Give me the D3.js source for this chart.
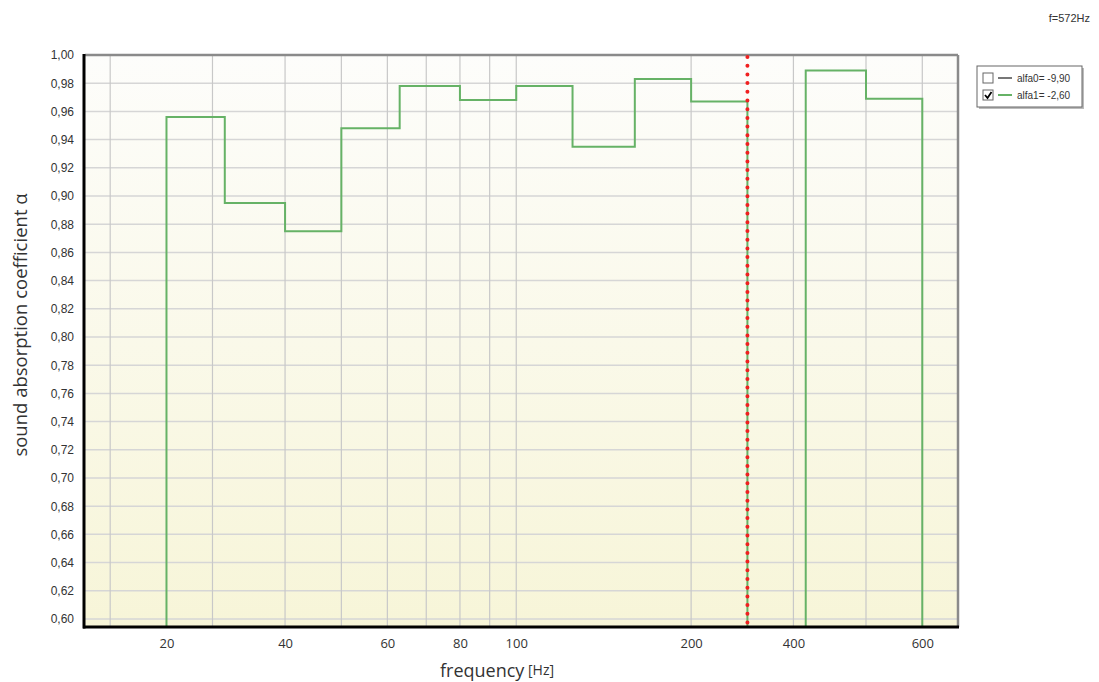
<!DOCTYPE html>
<html>
<head>
<meta charset="utf-8">
<script src="https://cdn.jsdelivr.net/npm/d3@7"></script>
<style>
    body { margin: 0; background: #fff; }
    svg text { font-family: "Liberation Sans", Arial, sans-serif; fill: #333; }
    .title-font { font-family: "Open Sans", "Noto Sans", sans-serif !important; }
</style>
</head>
<body>
<div id="chart"></div>
<script>

// third-octave band start frequencies and absorption (step after)
var bandFreqs = [20, 25, 31.5, 40, 50, 63, 80, 100, 125, 160, 200, 250, 315, 400, 500];
var alfa1 = [0.58, 0.956, 0.895, 0.875, 0.948, 0.978, 0.968, 0.978, 0.935, 0.983, 0.967, 0.58, 0.989, 0.969, 0.58];

// x axis: tick positions (Hz) and the labels the original shows there
var xTickValues = [25, 40, 60, 80, 100, 200, 300, 500];
var xTickLabels = ["20", "40", "60", "80", "100", "200", "400", "600"];
var xGridValues = [20, 30, 40, 50, 60, 70, 80, 90, 100, 200, 300, 400, 500];

var yTickValues = d3.range(0.60, 1.0001, 0.02);

var markerFreq = 250;
var legendItems = [
    {label: "alfa0= -9,90", color: "#777", checked: false},
    {label: "alfa1= -2,60", color: "#66b266", checked: true}
];

var W = 1099, H = 682;
var margin = {top: 55, right: 141, bottom: 55, left: 85};
var width = W - margin.left - margin.right,
    height = H - margin.top - margin.bottom;

var svg = d3.select("#chart").append("svg")
    .attr("width", W)
    .attr("height", H);

// background gradient
var defs = svg.append("defs");
var grad = defs.append("linearGradient")
    .attr("id", "bg").attr("x1", 0).attr("y1", 0).attr("x2", 0).attr("y2", 1);
grad.append("stop").attr("offset", "0%").attr("stop-color", "#fdfdfb");
grad.append("stop").attr("offset", "100%").attr("stop-color", "#f7f5d8");

defs.append("clipPath").attr("id", "clip")
    .append("rect").attr("width", width).attr("height", height);

var g = svg.append("g")
    .attr("transform", "translate(" + margin.left + "," + margin.top + ")");

var x = d3.scaleLog().domain([18.1, 576]).range([0, width]);
var y = d3.scaleLinear().domain([0.5943, 1.0]).range([height, 0]);

g.append("rect")
    .attr("width", width).attr("height", height)
    .attr("fill", "url(#bg)");

// grid
g.selectAll(".hgrid").data(yTickValues).enter().append("line")
    .attr("x1", 0).attr("x2", width)
    .attr("y1", function (d) { return y(d); })
    .attr("y2", function (d) { return y(d); })
    .attr("stroke", "#d6d6d6").attr("stroke-width", 1.5);

g.selectAll(".vgrid").data(xGridValues).enter().append("line")
    .attr("x1", function (d) { return x(d); })
    .attr("x2", function (d) { return x(d); })
    .attr("y1", 0).attr("y2", height)
    .attr("stroke", "#c8c8c8").attr("stroke-width", 1.2);

// step line
var pts = bandFreqs.map(function (f, i) { return [f, alfa1[i]]; });
pts.push([600, 0.58]);
var line = d3.line()
    .x(function (d) { return x(d[0]); })
    .y(function (d) { return y(d[1]); })
    .curve(d3.curveStepAfter);

g.append("path")
    .datum(pts)
    .attr("clip-path", "url(#clip)")
    .attr("d", line)
    .attr("fill", "none")
    .attr("stroke", "#66b266")
    .attr("stroke-width", 2);

// frame: grey top/right, black left/bottom
g.append("line").attr("x1", 0).attr("x2", width).attr("y1", 0).attr("y2", 0)
    .attr("stroke", "#8a8a8a").attr("stroke-width", 2.5);
g.append("line").attr("x1", width).attr("x2", width).attr("y1", 0).attr("y2", height)
    .attr("stroke", "#8a8a8a").attr("stroke-width", 2.5);

// marker line
g.append("line")
    .attr("x1", x(markerFreq)).attr("x2", x(markerFreq))
    .attr("y1", 2).attr("y2", height)
    .attr("stroke", "#f02020")
    .attr("stroke-width", 4)
    .attr("stroke-linecap", "round")
    .attr("stroke-dasharray", "0 8.7");

// axes
var yAxis = d3.axisLeft(y).tickValues(yTickValues).tickSize(0).tickPadding(11)
    .tickFormat(function (d) { return d3.format(".2f")(d).replace(".", ","); });
var yg = g.append("g").call(yAxis);
yg.select(".domain").remove();
yg.selectAll("text").style("font-size", "12px").attr("fill", "#333");

var xAxis = d3.axisBottom(x).tickValues(xTickValues).tickSize(0).tickPadding(12)
    .tickFormat(function (d, i) { return xTickLabels[i]; });
var xg = g.append("g").attr("transform", "translate(0," + height + ")").call(xAxis);
xg.select(".domain").remove();
xg.selectAll("text").attr("class", "title-font").style("font-size", "13px").attr("fill", "#333");

g.append("line").attr("x1", -1).attr("x2", -1).attr("y1", -1).attr("y2", height + 1.5)
    .attr("stroke", "#000").attr("stroke-width", 3);
g.append("line").attr("x1", -2).attr("x2", width + 1).attr("y1", height).attr("y2", height)
    .attr("stroke", "#000").attr("stroke-width", 3);

// axis titles
svg.append("text")
    .attr("class", "title-font")
    .attr("transform", "translate(27," + (margin.top + height / 2 - 16) + ") rotate(-90)")
    .attr("text-anchor", "middle")
    .style("font-size", "18.5px")
    .attr("fill", "#222")
    .text("sound absorption coefficient  \u03b1");

var xt = svg.append("text")
    .attr("class", "title-font")
    .attr("x", 440).attr("y", 677)
    .attr("fill", "#222");
xt.append("tspan").style("font-size", "18px").text("frequency");
xt.append("tspan").style("font-size", "14px").attr("dy", -2).text(" [Hz]");

// marker label
svg.append("text")
    .attr("x", 1090).attr("y", 22)
    .attr("text-anchor", "end")
    .style("font-size", "11px")
    .attr("fill", "#222")
    .text("f=572Hz");

// legend
var lg = svg.append("g").attr("transform", "translate(977,66)");
lg.append("rect").attr("x", 2).attr("y", 2).attr("width", 105).attr("height", 41)
    .attr("fill", "#bbb");
lg.append("rect").attr("width", 105).attr("height", 41)
    .attr("fill", "#fff").attr("stroke", "#666").attr("stroke-width", 1);

var rows = lg.selectAll(".row").data(legendItems).enter().append("g")
    .attr("transform", function (d, i) { return "translate(0," + (12 + i * 17) + ")"; });
rows.append("rect").attr("x", 6).attr("y", -5).attr("width", 10).attr("height", 10)
    .attr("fill", "#fff").attr("stroke", "#666");
rows.filter(function (d) { return d.checked; }).append("path")
    .attr("d", "M8,0 L10.5,3 L14.5,-3")
    .attr("fill", "none").attr("stroke", "#000").attr("stroke-width", 1.8);
rows.append("line").attr("x1", 21).attr("x2", 35).attr("y1", 0).attr("y2", 0)
    .attr("stroke", function (d) { return d.color; }).attr("stroke-width", 2);
rows.append("text").attr("x", 40).attr("y", 4)
    .style("font-size", "10px").attr("fill", "#222")
    .text(function (d) { return d.label; });

</script>
</body>
</html>
